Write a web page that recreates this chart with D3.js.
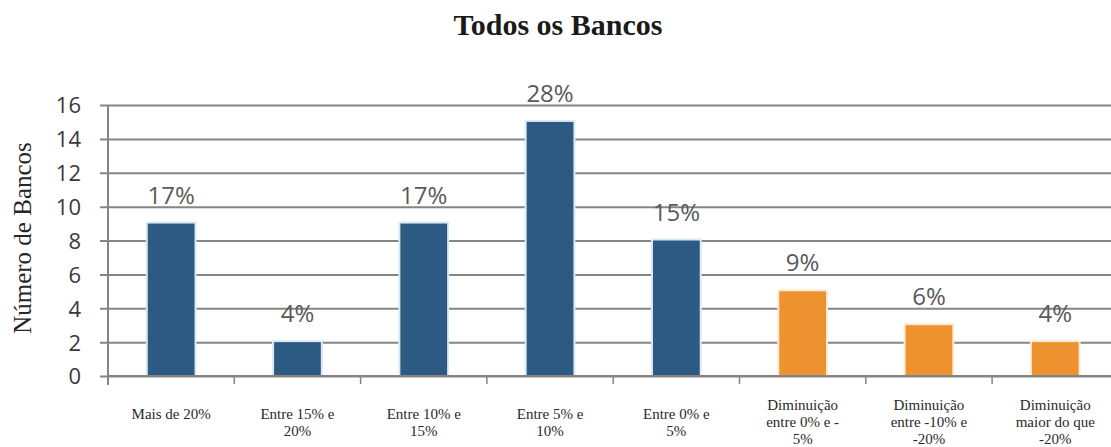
<!DOCTYPE html>
<html>
<head>
<meta charset="utf-8">
<script src="https://cdn.jsdelivr.net/npm/d3@7"></script>
<style>
  html, body { margin: 0; padding: 0; background: #fff; }
  svg { display: block; }
</style>
</head>
<body>
<svg id="chart" width="1111" height="447"></svg>
<script>
// Distribution of banks by change band
const categories = [
  "Mais de 20%",
  "Entre 15% e\n20%",
  "Entre 10% e\n15%",
  "Entre 5% e\n10%",
  "Entre 0% e\n5%",
  "Diminuição\nentre 0% e -\n5%",
  "Diminuição\nentre -10% e\n-20%",
  "Diminuição\nmaior do que\n-20%"
];
const counts = [9, 2, 9, 15, 8, 5, 3, 2];
const shares = ["17%", "4%", "17%", "28%", "15%", "9%", "6%", "4%"];
const groups = ["up", "up", "up", "up", "up", "down", "down", "down"];
const yTicks = [0, 2, 4, 6, 8, 10, 12, 14, 16];

const fills = { up: "#2c5a82", down: "#ee9230" };
const halos = { up: "#dbe9f5", down: "#fdebd6" };

const svg = d3.select("#chart");

const plotLeft = 108, plotTop = 105, plotBottom = 376;
const step = 126.3;
const x = d3.scaleBand()
  .domain(categories)
  .range([plotLeft, plotLeft + step * categories.length])
  .paddingInner(0.63)
  .paddingOuter(0.315);
const y = d3.scaleLinear().domain([0, 16]).range([plotBottom, plotTop]);

// Title
svg.append("text")
  .attr("x", 558).attr("y", 35)
  .attr("text-anchor", "middle")
  .attr("font-family", "'Liberation Serif', 'Times New Roman', serif")
  .attr("font-weight", "bold")
  .attr("font-size", 30)
  .attr("fill", "#1a1a1a")
  .text("Todos os Bancos");

// Y axis title
svg.append("text")
  .attr("transform", "translate(31,238) rotate(-90)")
  .attr("text-anchor", "middle")
  .attr("font-family", "'Liberation Serif', 'Times New Roman', serif")
  .attr("font-size", 25)
  .attr("fill", "#262626")
  .text("Número de Bancos");

// Y axis with full-width gridlines
const yAxis = d3.axisLeft(y)
  .tickValues(yTicks)
  .tickSize(-(x.range()[1] - plotLeft))
  .tickSizeOuter(0)
  .tickPadding(0);
const gy = svg.append("g")
  .attr("transform", `translate(${plotLeft},0)`)
  .call(yAxis);
gy.select(".domain").remove();
gy.selectAll(".tick line")
  .attr("x1", -8)
  .attr("stroke", "#858585")
  .attr("stroke-width", 2);
gy.selectAll(".tick text")
  .attr("x", -27)
  .attr("dy", "0.36em")
  .attr("font-family", "'Open Sans', sans-serif")
  .attr("font-size", 22)
  .attr("fill", "#3a3a3a");

// Vertical axis line
svg.append("line")
  .attr("x1", plotLeft).attr("x2", plotLeft)
  .attr("y1", plotTop).attr("y2", plotBottom + 9)
  .attr("stroke", "#858585")
  .attr("stroke-width", 2);

// Category boundary ticks
const bounds = d3.range(categories.length + 1).map(i => x.range()[0] + i * x.step());
svg.append("g").selectAll("line")
  .data(bounds.slice(1))
  .join("line")
  .attr("x1", d => d).attr("x2", d => d)
  .attr("y1", plotBottom).attr("y2", plotBottom + 8)
  .attr("stroke", "#858585")
  .attr("stroke-width", 1.5);

// Bars: soft halo, then solid fill
const bars = svg.append("g");
bars.selectAll("rect.halo")
  .data(categories)
  .join("rect")
  .attr("class", "halo")
  .attr("x", d => x(d) - 2)
  .attr("width", x.bandwidth() + 4)
  .attr("y", (d, i) => y(counts[i]) - 2)
  .attr("height", (d, i) => y(0) - y(counts[i]) + 1)
  .attr("fill", (d, i) => halos[groups[i]]);
bars.selectAll("rect.bar")
  .data(categories)
  .join("rect")
  .attr("class", "bar")
  .attr("x", d => x(d))
  .attr("width", x.bandwidth())
  .attr("y", (d, i) => y(counts[i]))
  .attr("height", (d, i) => y(0) - y(counts[i]) - 1)
  .attr("fill", (d, i) => fills[groups[i]]);

// Baseline
svg.append("line")
  .attr("x1", plotLeft).attr("x2", x.range()[1])
  .attr("y1", plotBottom).attr("y2", plotBottom)
  .attr("stroke", "#858585")
  .attr("stroke-width", 2);

// Share labels above bars
svg.append("g").selectAll("text")
  .data(categories)
  .join("text")
  .attr("x", d => x(d) + x.bandwidth() / 2)
  .attr("y", (d, i) => y(counts[i]) - 20)
  .attr("text-anchor", "middle")
  .attr("font-family", "'Open Sans', sans-serif")
  .attr("font-size", 24)
  .attr("fill", "#595959")
  .text((d, i) => shares[i]);

// Category labels
const catLabels = svg.append("g").selectAll("text")
  .data(categories)
  .join("text")
  .attr("x", d => x(d) + x.bandwidth() / 2)
  .attr("y", d => d.split("\n").length > 2 ? 410 : 419)
  .attr("text-anchor", "middle")
  .attr("font-family", "'Liberation Serif', 'Times New Roman', serif")
  .attr("font-size", 15)
  .attr("fill", "#2a2a2a");
catLabels.selectAll("tspan")
  .data(d => d.split("\n"))
  .join("tspan")
  .attr("x", function () { return d3.select(this.parentNode).attr("x"); })
  .attr("dy", (d, i) => i === 0 ? 0 : 17)
  .text(d => d);
</script>
</body>
</html>
